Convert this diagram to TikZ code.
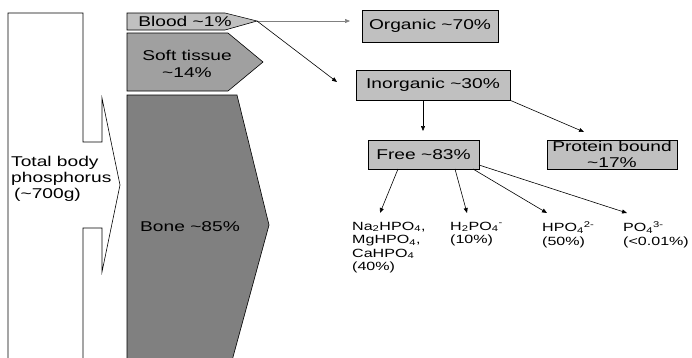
\documentclass[tikz,border=0pt]{standalone}
\usepackage{fontspec}
\setmainfont[FakeStretch=1.35]{Liberation Sans}
\usetikzlibrary{arrows.meta}
\definecolor{lightg}{HTML}{C0C0C0}
\definecolor{midg}{HTML}{A0A0A0}
\definecolor{darkg}{HTML}{808080}
\begin{document}
\begin{tikzpicture}[x=1pt,y=-1pt,
  outl/.style={draw=black,line width=0.6pt},
  box/.style={draw=black,fill=lightg,line width=0.7pt,inner sep=0pt,align=center,
     font=\fontsize{14.2}{16.3}\selectfont},
  lbl/.style={inner sep=0pt,font=\fontsize{14.2}{16.3}\selectfont},
  small/.style={inner sep=0pt,align=left,anchor=north west,font=\fontsize{11.9}{13.5}\selectfont},
  arr/.style={draw=black,line width=0.6pt,-{Triangle[length=5pt,width=4pt]}}
  ]
\clip (0,0) rectangle (692,357);
\fill[white] (0,0) rectangle (692,357);
% total body outline
\draw[outl,fill=white] (8,13) -- (83,13) -- (83,142) -- (102,142) -- (102,98) -- (120,185)
  -- (102,272) -- (102,228) -- (83,228) -- (83,362) -- (8,362) -- cycle;
\node[lbl,anchor=west,align=left] (total) at (11,179) {Total body\\phosphorus\\\hspace*{3pt}(\textasciitilde700g)};
% compartments
\draw[outl,fill=lightg] (127,13) -- (225,13) -- (257,21) -- (225,30) -- (127,30) -- cycle;
\coordinate (bloodtip) at (257,21);
\node[lbl] (blood) at (185,21) {Blood \textasciitilde1\%};
\draw[outl,fill=midg] (127,33) -- (228,33) -- (263,62) -- (228,91) -- (127,91) -- cycle;
\node[lbl,align=center] (soft) at (187,64) {Soft tissue\\\textasciitilde14\%};
\draw[outl,fill=darkg] (127,95) -- (237,95) -- (269,225) -- (233,357) -- (232,362) -- (127,362) -- cycle;
\node[lbl,anchor=west] (bone) at (140,227) {Bone \textasciitilde85\%};
% boxes
\node[box,minimum width=136pt,minimum height=32pt] (organic) at (430,26) {Organic \textasciitilde70\%};
\node[box,minimum width=154pt,minimum height=30pt] (inorg) at (433,85) {Inorganic \textasciitilde30\%};
\node[box,minimum width=111pt,minimum height=29pt] (free) at (423.5,154.5) {Free \textasciitilde83\%};
\node[box,minimum width=130pt,minimum height=29pt] (prot) at (612,154.5) {Protein bound\\\textasciitilde17\%};
% arrows
\coordinate (orgend) at (350,21);
\coordinate (inorgend) at (337,82);
\draw[arr,draw=darkg] (bloodtip) -- (orgend);
\draw[arr] (bloodtip) -- (inorgend);
\coordinate (fs) at (423,100);
\coordinate (fe) at (423,131);
\draw[arr] (fs) -- (fe);
\coordinate (pe) at (584,132);
\draw[arr] (inorg.south east) -- (pe);
% labels
\node[small] (na) at (352,221.5) {Na\textsubscript{2}HPO\textsubscript{4},\\MgHPO\textsubscript{4},\\CaHPO\textsubscript{4}\\(40\%)};
\node[small] (h2) at (450,221.5) {H\textsubscript{2}PO\textsubscript{4}\textsuperscript{-}\\(10\%)};
\node[small] (hp) at (542,221.5) {HPO\textsubscript{4}\textsuperscript{2-}\\(50\%)};
\node[small] (po) at (623,221.5) {PO\textsubscript{4}\textsuperscript{3-}\\(<0.01\%)};
\coordinate (s1) at (398,169); \coordinate (e1) at (380,213);
\coordinate (s2) at (455,169); \coordinate (e2) at (467,213);
\coordinate (s3) at (473,169); \coordinate (e3) at (547,213);
\coordinate (s4) at (479,165); \coordinate (e4) at (627,213);
\draw[arr] (s1) -- (e1);
\draw[arr] (s2) -- (e2);
\draw[arr] (s3) -- (e3);
\draw[arr] (s4) -- (e4);
\end{tikzpicture}
\end{document}
